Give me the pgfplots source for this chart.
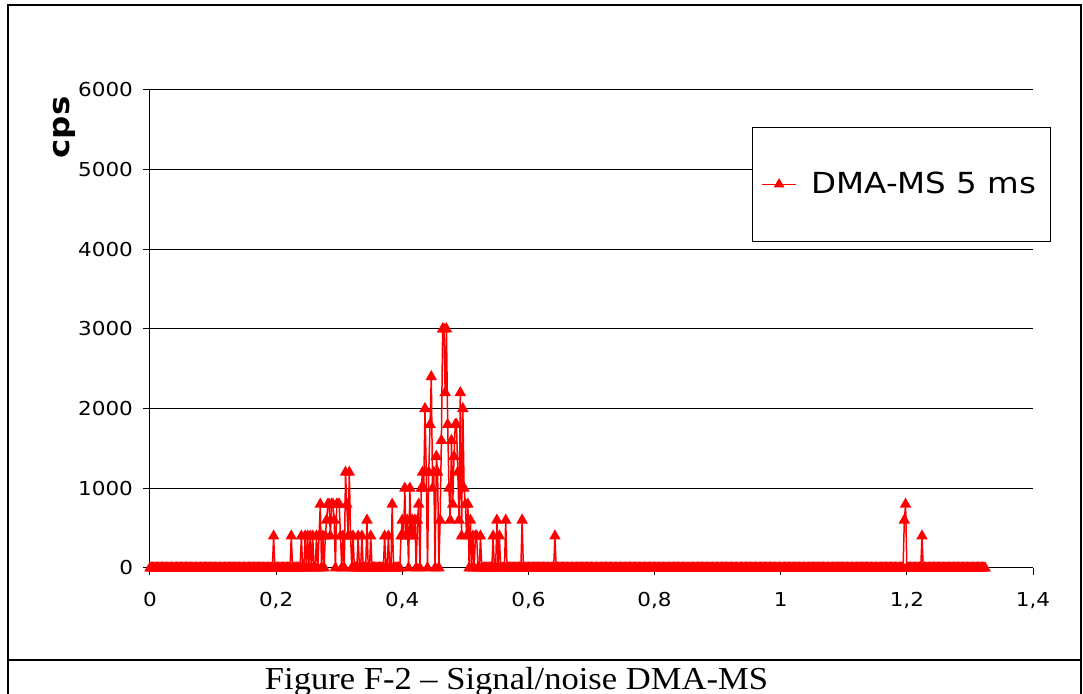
\documentclass[border=0pt]{standalone}
\usepackage{fontspec}
\setmainfont{DejaVu Sans}[FakeStretch=1.12]
\newfontfamily\capfont{Liberation Serif}[FakeStretch=1.08]
\usepackage{pgfplots}
\pgfplotsset{compat=1.18}

\begin{document}
\begin{tikzpicture}
\useasboundingbox (0,0) rectangle (541.5pt,-347pt);
% table frame round the chart and caption cell
\draw[line width=1.2pt] (4pt,-350pt) -- (4pt,-2.5pt) -- (540.5pt,-2.5pt) -- (540.5pt,-350pt);
\draw[line width=1.2pt] (4pt,-330pt) -- (540.5pt,-330pt);
\node[anchor=base, inner sep=0pt, font=\capfont\fontsize{16}{18}\selectfont] at (258.25pt,-345pt) {Figure F-2 – Signal/noise DMA-MS};

\begin{axis}[
  at={(75pt,-284pt)}, anchor=origin,
  scale only axis, width=441.5pt, height=239pt,
  xmin=0, xmax=1.4, ymin=0, ymax=6000,
  axis x line=bottom, axis y line=left,
  axis line style={-, black, line width=0.5pt},
  xtick={0,0.2,0.4,0.6,0.8,1,1.2,1.4},
  xticklabels={0,{0,2},{0,4},{0,6},{0,8},1,{1,2},{1,4}},
  ytick={0,1000,2000,3000,4000,5000,6000},
  yticklabels={0,1000,2000,3000,4000,5000,6000},
  tick align=outside, major tick length=3.5pt,
  tick style={black, line width=0.5pt},
  ymajorgrids, grid style={black, line width=0.5pt},
  ticklabel style={font=\fontsize{9.6}{11}\selectfont},
  xticklabel style={yshift=-5pt},
  yticklabel style={xshift=-1.5pt},
  ylabel={cps},
  ylabel style={at={(axis description cs:-0.0968,0.9215)}, anchor=center,
    font=\bfseries\fontsize{14.5}{16}\selectfont},
  legend style={at={(0.6818,0.9226)}, anchor=north west, draw=black,
    line width=0.5pt, font=\fontsize{14.5}{17}\selectfont,
    inner xsep=4.5pt, inner ysep=22.25pt, nodes={inner ysep=0pt, inner xsep=2.5pt}},
  legend image post style={line width=0.5pt},
  clip=false,
]
\addplot[red, line width=0.75pt, mark=triangle*, mark size=2.6pt,
  mark options={solid, fill=red}] coordinates {
(0.000,0)(0.002,0)(0.004,0)(0.006,0)(0.008,0)(0.010,0)(0.012,0)(0.014,0)(0.016,0)(0.018,0)
(0.020,0)(0.022,0)(0.024,0)(0.026,0)(0.028,0)(0.030,0)(0.032,0)(0.034,0)(0.036,0)(0.038,0)
(0.040,0)(0.042,0)(0.044,0)(0.046,0)(0.048,0)(0.050,0)(0.052,0)(0.054,0)(0.056,0)(0.058,0)
(0.060,0)(0.062,0)(0.064,0)(0.066,0)(0.068,0)(0.070,0)(0.072,0)(0.074,0)(0.076,0)(0.078,0)
(0.080,0)(0.082,0)(0.084,0)(0.086,0)(0.088,0)(0.090,0)(0.092,0)(0.094,0)(0.096,0)(0.098,0)
(0.100,0)(0.102,0)(0.104,0)(0.106,0)(0.108,0)(0.110,0)(0.112,0)(0.114,0)(0.116,0)(0.118,0)
(0.120,0)(0.122,0)(0.124,0)(0.126,0)(0.128,0)(0.130,0)(0.132,0)(0.134,0)(0.136,0)(0.138,0)
(0.140,0)(0.142,0)(0.144,0)(0.146,0)(0.148,0)(0.150,0)(0.152,0)(0.154,0)(0.156,0)(0.158,0)
(0.160,0)(0.162,0)(0.164,0)(0.166,0)(0.168,0)(0.170,0)(0.172,0)(0.174,0)(0.176,0)(0.178,0)
(0.180,0)(0.182,0)(0.184,0)(0.186,0)(0.188,0)(0.190,0)(0.192,0)(0.194,0)(0.196,400)(0.198,0)
(0.200,0)(0.202,0)(0.204,0)(0.206,0)(0.208,0)(0.210,0)(0.212,0)(0.214,0)(0.216,0)(0.218,0)
(0.220,0)(0.222,0)(0.224,400)(0.226,0)(0.228,0)(0.230,0)(0.232,0)(0.234,0)(0.236,0)(0.238,0)
(0.240,400)(0.242,0)(0.244,0)(0.246,400)(0.248,0)(0.250,400)(0.252,0)(0.254,400)(0.256,0)(0.258,400)
(0.260,0)(0.262,0)(0.264,400)(0.266,0)(0.268,400)(0.270,800)(0.272,0)(0.274,400)(0.276,0)(0.278,400)
(0.280,600)(0.282,800)(0.284,800)(0.286,400)(0.288,800)(0.290,800)(0.292,600)(0.294,0)(0.296,800)(0.298,800)
(0.300,800)(0.302,400)(0.304,0)(0.306,400)(0.308,0)(0.310,1200)(0.312,800)(0.314,400)(0.316,1200)(0.318,400)
(0.320,0)(0.322,400)(0.324,0)(0.326,0)(0.328,0)(0.330,400)(0.332,0)(0.334,0)(0.336,400)(0.338,0)
(0.340,0)(0.342,0)(0.344,600)(0.346,0)(0.348,0)(0.350,400)(0.352,0)(0.354,0)(0.356,0)(0.358,0)
(0.360,0)(0.362,0)(0.364,0)(0.366,0)(0.368,0)(0.370,0)(0.372,400)(0.374,0)(0.376,0)(0.378,400)
(0.380,0)(0.382,0)(0.384,800)(0.386,0)(0.388,0)(0.390,0)(0.392,0)(0.394,0)(0.396,0)(0.398,400)
(0.400,600)(0.402,400)(0.404,1000)(0.406,400)(0.408,600)(0.410,0)(0.412,1000)(0.414,400)(0.416,600)(0.418,400)
(0.420,600)(0.422,0)(0.424,600)(0.426,800)(0.428,0)(0.430,1000)(0.432,1200)(0.434,1000)(0.436,2000)(0.438,1200)
(0.440,0)(0.442,1200)(0.444,1800)(0.446,2400)(0.448,1000)(0.450,1200)(0.452,0)(0.454,1400)(0.456,1200)(0.458,0)
(0.460,600)(0.462,1600)(0.464,3000)(0.466,3000)(0.468,2200)(0.470,3000)(0.472,1800)(0.474,1000)(0.476,600)(0.478,1600)
(0.480,800)(0.482,1400)(0.484,1800)(0.486,1800)(0.488,1200)(0.490,600)(0.492,2200)(0.494,400)(0.496,2000)(0.498,1000)
(0.500,800)(0.502,400)(0.504,800)(0.506,0)(0.508,600)(0.510,0)(0.512,400)(0.514,0)(0.516,400)(0.518,400)
(0.520,0)(0.522,0)(0.524,400)(0.526,0)(0.528,0)(0.530,0)(0.532,0)(0.534,0)(0.536,0)(0.538,0)
(0.540,0)(0.542,0)(0.544,400)(0.546,0)(0.548,0)(0.550,600)(0.552,0)(0.554,400)(0.556,0)(0.558,0)
(0.560,0)(0.562,0)(0.564,600)(0.566,0)(0.568,0)(0.570,0)(0.572,0)(0.574,0)(0.576,0)(0.578,0)
(0.580,0)(0.582,0)(0.584,0)(0.586,0)(0.588,0)(0.590,600)(0.592,0)(0.594,0)(0.596,0)(0.598,0)
(0.600,0)(0.602,0)(0.604,0)(0.606,0)(0.608,0)(0.610,0)(0.612,0)(0.614,0)(0.616,0)(0.618,0)
(0.620,0)(0.622,0)(0.624,0)(0.626,0)(0.628,0)(0.630,0)(0.632,0)(0.634,0)(0.636,0)(0.638,0)
(0.640,0)(0.642,400)(0.644,0)(0.646,0)(0.648,0)(0.650,0)(0.652,0)(0.654,0)(0.656,0)(0.658,0)
(0.660,0)(0.662,0)(0.664,0)(0.666,0)(0.668,0)(0.670,0)(0.672,0)(0.674,0)(0.676,0)(0.678,0)
(0.680,0)(0.682,0)(0.684,0)(0.686,0)(0.688,0)(0.690,0)(0.692,0)(0.694,0)(0.696,0)(0.698,0)
(0.700,0)(0.702,0)(0.704,0)(0.706,0)(0.708,0)(0.710,0)(0.712,0)(0.714,0)(0.716,0)(0.718,0)
(0.720,0)(0.722,0)(0.724,0)(0.726,0)(0.728,0)(0.730,0)(0.732,0)(0.734,0)(0.736,0)(0.738,0)
(0.740,0)(0.742,0)(0.744,0)(0.746,0)(0.748,0)(0.750,0)(0.752,0)(0.754,0)(0.756,0)(0.758,0)
(0.760,0)(0.762,0)(0.764,0)(0.766,0)(0.768,0)(0.770,0)(0.772,0)(0.774,0)(0.776,0)(0.778,0)
(0.780,0)(0.782,0)(0.784,0)(0.786,0)(0.788,0)(0.790,0)(0.792,0)(0.794,0)(0.796,0)(0.798,0)
(0.800,0)(0.802,0)(0.804,0)(0.806,0)(0.808,0)(0.810,0)(0.812,0)(0.814,0)(0.816,0)(0.818,0)
(0.820,0)(0.822,0)(0.824,0)(0.826,0)(0.828,0)(0.830,0)(0.832,0)(0.834,0)(0.836,0)(0.838,0)
(0.840,0)(0.842,0)(0.844,0)(0.846,0)(0.848,0)(0.850,0)(0.852,0)(0.854,0)(0.856,0)(0.858,0)
(0.860,0)(0.862,0)(0.864,0)(0.866,0)(0.868,0)(0.870,0)(0.872,0)(0.874,0)(0.876,0)(0.878,0)
(0.880,0)(0.882,0)(0.884,0)(0.886,0)(0.888,0)(0.890,0)(0.892,0)(0.894,0)(0.896,0)(0.898,0)
(0.900,0)(0.902,0)(0.904,0)(0.906,0)(0.908,0)(0.910,0)(0.912,0)(0.914,0)(0.916,0)(0.918,0)
(0.920,0)(0.922,0)(0.924,0)(0.926,0)(0.928,0)(0.930,0)(0.932,0)(0.934,0)(0.936,0)(0.938,0)
(0.940,0)(0.942,0)(0.944,0)(0.946,0)(0.948,0)(0.950,0)(0.952,0)(0.954,0)(0.956,0)(0.958,0)
(0.960,0)(0.962,0)(0.964,0)(0.966,0)(0.968,0)(0.970,0)(0.972,0)(0.974,0)(0.976,0)(0.978,0)
(0.980,0)(0.982,0)(0.984,0)(0.986,0)(0.988,0)(0.990,0)(0.992,0)(0.994,0)(0.996,0)(0.998,0)
(1.000,0)(1.002,0)(1.004,0)(1.006,0)(1.008,0)(1.010,0)(1.012,0)(1.014,0)(1.016,0)(1.018,0)
(1.020,0)(1.022,0)(1.024,0)(1.026,0)(1.028,0)(1.030,0)(1.032,0)(1.034,0)(1.036,0)(1.038,0)
(1.040,0)(1.042,0)(1.044,0)(1.046,0)(1.048,0)(1.050,0)(1.052,0)(1.054,0)(1.056,0)(1.058,0)
(1.060,0)(1.062,0)(1.064,0)(1.066,0)(1.068,0)(1.070,0)(1.072,0)(1.074,0)(1.076,0)(1.078,0)
(1.080,0)(1.082,0)(1.084,0)(1.086,0)(1.088,0)(1.090,0)(1.092,0)(1.094,0)(1.096,0)(1.098,0)
(1.100,0)(1.102,0)(1.104,0)(1.106,0)(1.108,0)(1.110,0)(1.112,0)(1.114,0)(1.116,0)(1.118,0)
(1.120,0)(1.122,0)(1.124,0)(1.126,0)(1.128,0)(1.130,0)(1.132,0)(1.134,0)(1.136,0)(1.138,0)
(1.140,0)(1.142,0)(1.144,0)(1.146,0)(1.148,0)(1.150,0)(1.152,0)(1.154,0)(1.156,0)(1.158,0)
(1.160,0)(1.162,0)(1.164,0)(1.166,0)(1.168,0)(1.170,0)(1.172,0)(1.174,0)(1.176,0)(1.178,0)
(1.180,0)(1.182,0)(1.184,0)(1.186,0)(1.188,0)(1.190,0)(1.192,0)(1.194,0)(1.196,600)(1.198,800)
(1.200,0)(1.202,0)(1.204,0)(1.206,0)(1.208,0)(1.210,0)(1.212,0)(1.214,0)(1.216,0)(1.218,0)
(1.220,0)(1.222,0)(1.224,400)(1.226,0)(1.228,0)(1.230,0)(1.232,0)(1.234,0)(1.236,0)(1.238,0)
(1.240,0)(1.242,0)(1.244,0)(1.246,0)(1.248,0)(1.250,0)(1.252,0)(1.254,0)(1.256,0)(1.258,0)
(1.260,0)(1.262,0)(1.264,0)(1.266,0)(1.268,0)(1.270,0)(1.272,0)(1.274,0)(1.276,0)(1.278,0)
(1.280,0)(1.282,0)(1.284,0)(1.286,0)(1.288,0)(1.290,0)(1.292,0)(1.294,0)(1.296,0)(1.298,0)
(1.300,0)(1.302,0)(1.304,0)(1.306,0)(1.308,0)(1.310,0)(1.312,0)(1.314,0)(1.316,0)(1.318,0)
(1.320,0)(1.322,0)(1.324,0)
};
\addlegendentry{\hspace{5pt}DMA-MS 5 ms}
\end{axis}
\end{tikzpicture}
\end{document}
